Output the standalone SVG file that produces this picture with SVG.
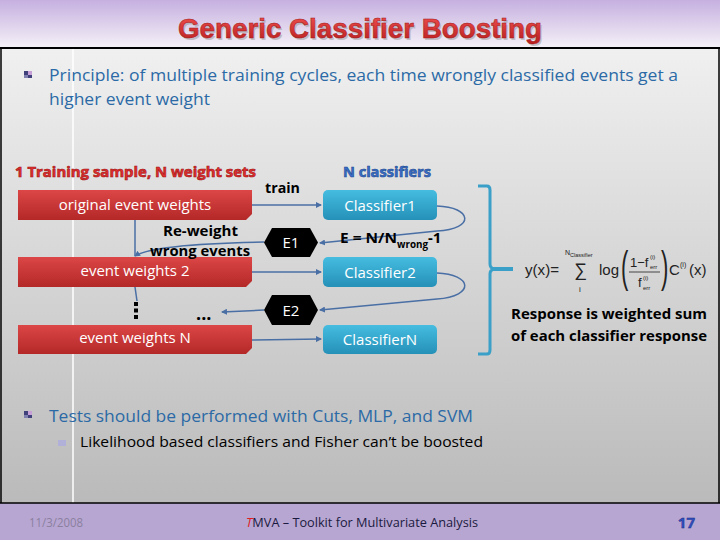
<svg xmlns="http://www.w3.org/2000/svg" width="720" height="540" viewBox="0 0 720 540">
<defs>
<linearGradient id="hdr" x1="0" y1="0" x2="0" y2="1"><stop offset="0" stop-color="#c6b0e0"/><stop offset="1" stop-color="#f5f1f7"/></linearGradient>
<linearGradient id="main" x1="0" y1="0" x2="0" y2="1"><stop offset="0" stop-color="#f0f0f0"/><stop offset="1" stop-color="#bababa"/></linearGradient>
<linearGradient id="red" x1="0" y1="0" x2="0" y2="1"><stop offset="0" stop-color="#dc4646"/><stop offset="1" stop-color="#b42828"/></linearGradient>
<linearGradient id="blue" x1="0" y1="0" x2="0" y2="1"><stop offset="0" stop-color="#45bde0"/><stop offset="1" stop-color="#2590b8"/></linearGradient>
<linearGradient id="ttl" x1="0" y1="0" x2="0" y2="1"><stop offset="0" stop-color="#f05050"/><stop offset="1" stop-color="#b81c1c"/></linearGradient>
<marker id="arr" markerUnits="userSpaceOnUse" markerWidth="6" markerHeight="6" refX="5" refY="3" orient="auto"><path d="M0,0 L6,3 L0,6 z" fill="#4a6fa5"/></marker>
</defs>
<style>
.cal{font-family:"Open Sans","Noto Sans",sans-serif}
.bl{fill:#2b6aa6;font-size:17px}
.wt{fill:#ffffff;font-size:15px;text-anchor:middle}
.bk{fill:#000;font-weight:bold;font-size:15px}
.conn{fill:none;stroke:#4a6fa5;stroke-width:1.5}
.ar{font-family:"Liberation Sans",Arial,sans-serif;fill:#222}
</style>
<!-- background -->
<rect x="0" y="0" width="720" height="48" fill="url(#hdr)"/>
<rect x="0" y="48" width="720" height="455" fill="url(#main)"/>
<rect x="0" y="503" width="720" height="37" fill="#b8a6d2"/>
<line x1="73" y1="48" x2="73" y2="503" stroke="#ffffff" stroke-width="1.5"/>
<line x1="0" y1="48" x2="720" y2="48" stroke="#000" stroke-width="2"/>
<line x1="1" y1="48" x2="1" y2="503" stroke="#000" stroke-width="1.5"/>
<line x1="719" y1="48" x2="719" y2="503" stroke="#000" stroke-width="1.5"/>
<line x1="0" y1="503" x2="720" y2="503" stroke="#000" stroke-width="1.5"/>
<!-- title -->
<text x="361.5" y="39.5" text-anchor="middle" font-family="Liberation Sans,Arial,sans-serif" font-weight="bold" font-size="27" fill="#999" opacity="0.5" textLength="364" lengthAdjust="spacingAndGlyphs">Generic Classifier Boosting</text>
<text x="360" y="38" text-anchor="middle" font-family="Liberation Sans,Arial,sans-serif" font-weight="bold" font-size="27" fill="url(#ttl)" stroke="#a01818" stroke-width="0.5" textLength="364" lengthAdjust="spacingAndGlyphs">Generic Classifier Boosting</text>
<!-- bullet 1 -->
<g id="bullet1">
<rect x="24" y="71" width="8" height="7" fill="#40407a"/><rect x="28" y="71" width="4" height="4" fill="#c8a0d8"/><rect x="24" y="75" width="4" height="3" fill="#8080b0"/>
<text class="cal bl" x="49" y="81" textLength="629" lengthAdjust="spacingAndGlyphs">Principle: of multiple training cycles, each time wrongly classified events get a</text>
<text class="cal bl" x="49" y="105" textLength="161" lengthAdjust="spacingAndGlyphs">higher event weight</text>
</g>
<!-- section headers -->
<text class="cal" x="15" y="177" font-weight="bold" font-size="15" fill="#e03030" stroke="#a01010" stroke-width="0.6" textLength="241" lengthAdjust="spacingAndGlyphs">1 Training sample, N weight sets</text>
<text class="cal" x="343" y="177" font-weight="bold" font-size="15" fill="#3a6fc8" stroke="#1e4a90" stroke-width="0.6" textLength="88" lengthAdjust="spacingAndGlyphs">N classifiers</text>
<!-- connectors -->
<g id="connectors">
<path class="conn" d="M252,205 L321,205" marker-end="url(#arr)"/>
<path class="conn" d="M252,272 L321,272" marker-end="url(#arr)"/>
<path class="conn" d="M252,340 L321,339" marker-end="url(#arr)"/>
<path class="conn" d="M437,206 C472,207 476,229 437,231 L320,243" marker-end="url(#arr)"/>
<path class="conn" d="M437,273 C472,274 476,296 437,299 L320,310" marker-end="url(#arr)"/>
<path class="conn" d="M264,242 C210,243 150,246 135,256" marker-end="url(#arr)"/>
<path class="conn" d="M135,220 L135,256"/>
<path class="conn" d="M264,310 L222,312" marker-end="url(#arr)"/>
<path class="conn" d="M135,287 L137,301"/>
</g>
<!-- vertical dots -->
<g id="vdots" fill="#000">
<rect x="134" y="302" width="4" height="4"/><rect x="134" y="308.5" width="4" height="4"/><rect x="134" y="315" width="4" height="4"/>
</g>
<text x="196" y="320" font-family="Open Sans,sans-serif" font-weight="bold" font-size="18" fill="#000">...</text>
<!-- red boxes -->
<g id="w1"><path d="M18,190 H252 V214 L246,220 H18 Z" fill="url(#red)"/><text class="cal wt" x="135" y="210">original event weights</text></g>
<g id="w2"><path d="M18,257 H252 V281 L246,287 H18 Z" fill="url(#red)"/><text class="cal wt" x="135" y="276">event weights 2</text></g>
<g id="wN"><path d="M18,325 H252 V348 L246,354 H18 Z" fill="url(#red)"/><text class="cal wt" x="135" y="343">event weights N</text></g>
<!-- classifiers -->
<g id="c1"><rect x="323" y="190" width="114" height="30" rx="5" fill="url(#blue)"/><text class="cal wt" x="380" y="211">Classifier1</text></g>
<g id="c2"><rect x="323" y="257" width="114" height="30" rx="5" fill="url(#blue)"/><text class="cal wt" x="380" y="278">Classifier2</text></g>
<g id="cN"><rect x="323" y="325" width="114" height="29" rx="5" fill="url(#blue)"/><text class="cal wt" x="380" y="345">ClassifierN</text></g>
<!-- hexagons -->
<g id="e1"><polygon points="264,242.5 272,228 310,228 318,242.5 310,257 272,257" fill="#000"/><text class="cal wt" x="291" y="248">E1</text></g>
<g id="e2"><polygon points="264,310 272,295 310,295 318,310 310,325 272,325" fill="#000"/><text class="cal wt" x="291" y="316">E2</text></g>
<!-- labels -->
<text class="cal bk" x="265" y="193" textLength="35" lengthAdjust="spacingAndGlyphs">train</text>
<text class="cal bk" x="163" y="236" textLength="75" lengthAdjust="spacingAndGlyphs">Re-weight</text>
<text class="cal bk" x="150" y="256" textLength="100" lengthAdjust="spacingAndGlyphs">wrong events</text>
<text class="cal bk" x="340" y="243" textLength="57" lengthAdjust="spacingAndGlyphs">E = N/N</text>
<text class="cal" x="397" y="248" font-weight="bold" font-size="10" textLength="31" lengthAdjust="spacingAndGlyphs">wrong</text>
<text class="cal bk" x="428" y="243">-1</text>
<!-- bracket -->
<path d="M478,186 L487,186 Q490,186 490,190 L490,264 Q490,268 494,269 Q490,270 490,274 L490,350 Q490,354 487,354 L478,354" fill="none" stroke="#3aa0c8" stroke-width="3"/>
<path d="M491,269 L513,269" stroke="#3aa0c8" stroke-width="4"/>
<!-- formula -->
<g id="formula">
<text class="ar" x="525" y="275" font-size="15" textLength="34" lengthAdjust="spacingAndGlyphs">y(x)=</text>
<text class="ar" x="574" y="276" font-size="18">∑</text>
<text class="ar" x="565" y="255" font-size="7">N</text><text class="ar" x="570" y="257" font-size="5.5">Classifier</text>
<text class="ar" x="579" y="292" font-size="8">i</text>
<text class="ar" x="599" y="275" font-size="15">log</text>
<text class="ar" x="621" y="282" font-size="44" transform="translate(621 0) scale(0.5 1) translate(-621 0)">(</text>
<text class="ar" x="630" y="267" font-size="13">1−f</text>
<text class="ar" x="650" y="259" font-size="6">(i)</text>
<text class="ar" x="650" y="269" font-size="6">err</text>
<line x1="629" y1="272" x2="660" y2="272" stroke="#222" stroke-width="0.8"/>
<text class="ar" x="638" y="287" font-size="13">f</text>
<text class="ar" x="643" y="280" font-size="6">(i)</text>
<text class="ar" x="643" y="290" font-size="6">err</text>
<text class="ar" x="661" y="282" font-size="44" transform="translate(661 0) scale(0.5 1) translate(-661 0)">)</text>
<text class="ar" x="669" y="275" font-size="15">C</text>
<text class="ar" x="680" y="267" font-size="7">(i)</text>
<text class="ar" x="689" y="275" font-size="15">(x)</text>
</g>
<text class="cal bk" x="609" y="319" text-anchor="middle" textLength="196" lengthAdjust="spacingAndGlyphs">Response is weighted sum</text>
<text class="cal bk" x="609" y="341" text-anchor="middle" textLength="196" lengthAdjust="spacingAndGlyphs">of each classifier response</text>
<!-- bullet 2 -->
<g id="bullet2">
<rect x="24" y="411" width="8" height="7" fill="#40407a"/><rect x="28" y="411" width="4" height="4" fill="#c8a0d8"/><rect x="24" y="415" width="4" height="3" fill="#8080b0"/>
<text class="cal bl" x="49" y="422" textLength="424" lengthAdjust="spacingAndGlyphs">Tests should be performed with Cuts, MLP, and SVM</text>
<rect x="58" y="440" width="8" height="6" fill="#b0b0d8"/>
<text class="cal" x="80" y="447" font-size="15" fill="#000" textLength="403" lengthAdjust="spacingAndGlyphs">Likelihood based classifiers and Fisher can’t be boosted</text>
</g>
<!-- footer -->
<text class="cal" x="29" y="527" font-size="12" fill="#8a80a0" textLength="54" lengthAdjust="spacingAndGlyphs">11/3/2008</text>
<text class="cal" x="246" y="527" font-size="13" fill="#1a1a40" textLength="232" lengthAdjust="spacingAndGlyphs"><tspan fill="#e02020" font-style="italic">T</tspan>MVA – Toolkit for Multivariate Analysis</text>
<text class="cal" x="695" y="528" text-anchor="end" font-weight="bold" font-size="15" fill="#3050c0" stroke="#1a2a80" stroke-width="0.4">17</text>
</svg>
